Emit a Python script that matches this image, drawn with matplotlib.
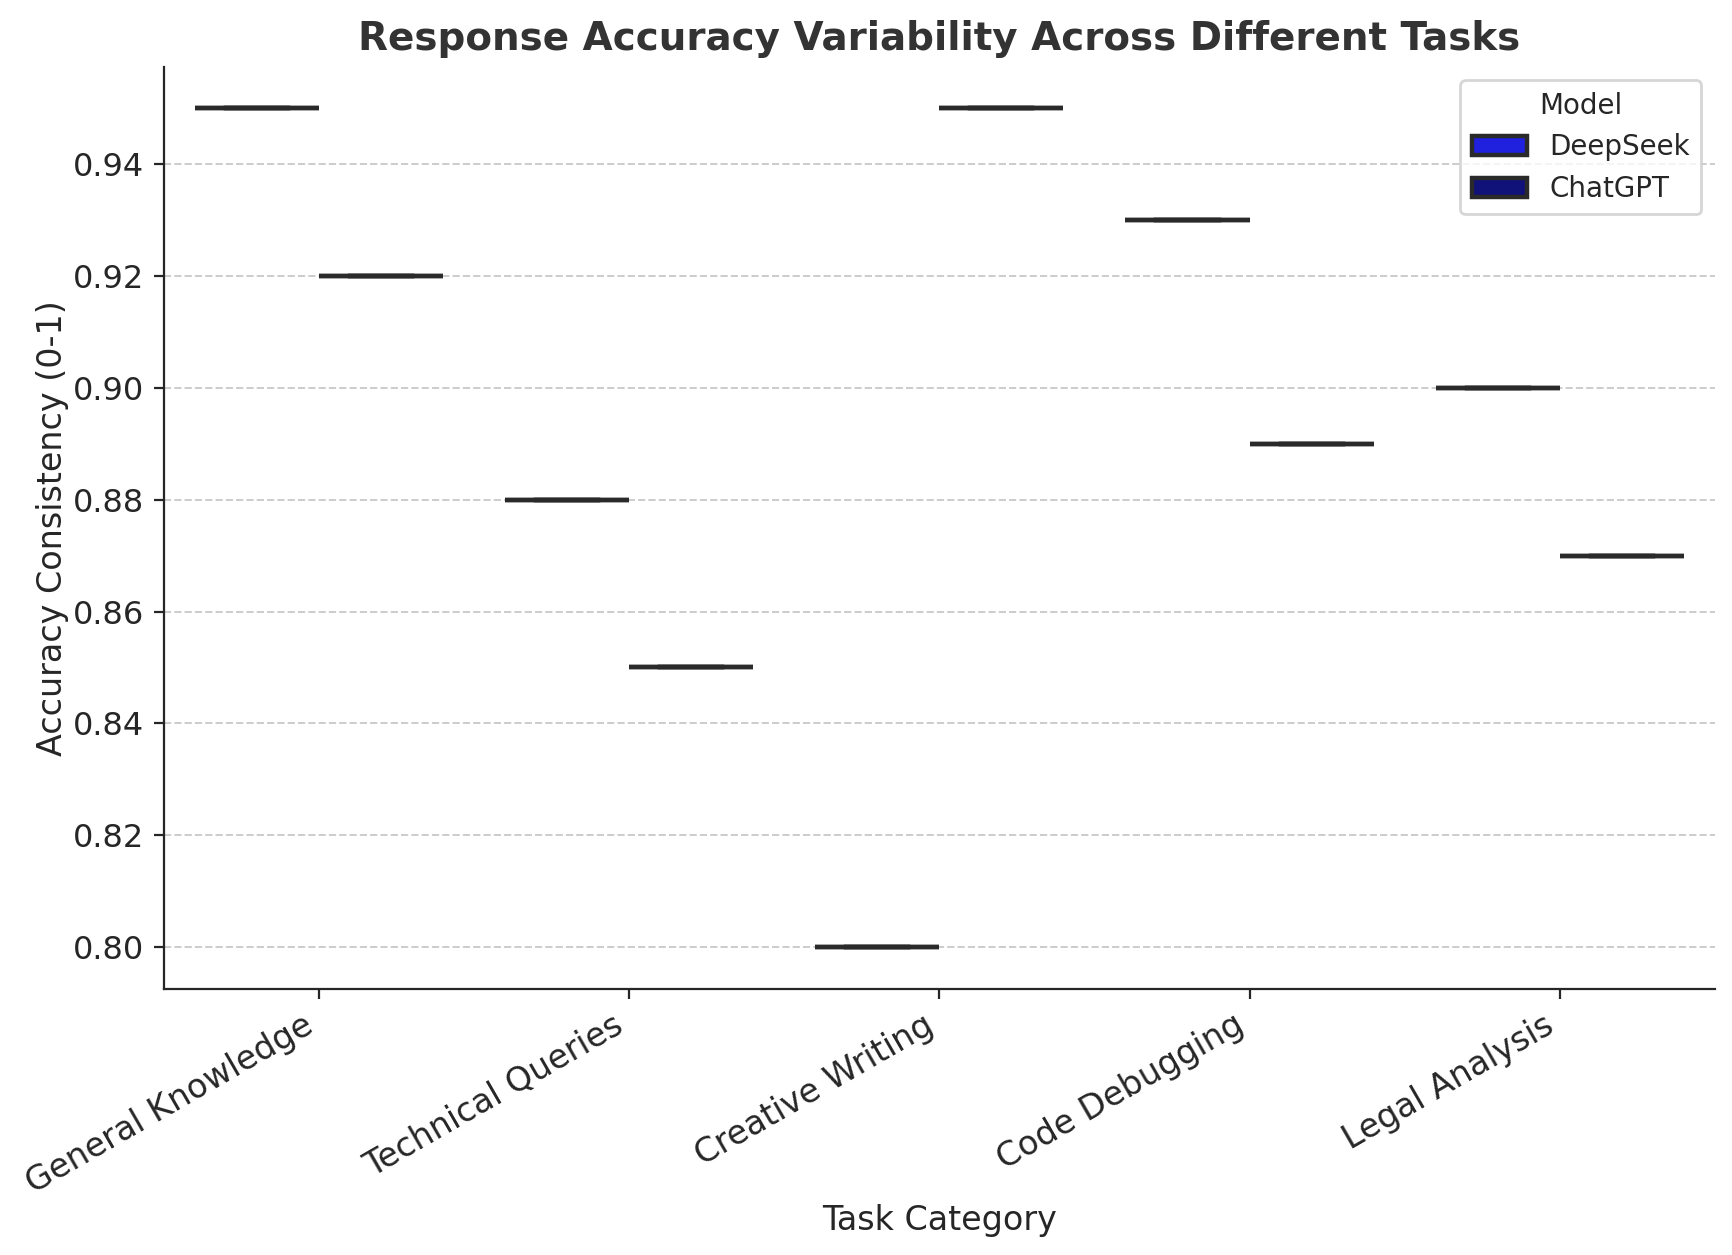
import matplotlib
matplotlib.use("Agg")
import matplotlib.pyplot as plt
import seaborn as sns
import pandas as pd

tasks = ["General Knowledge", "Technical Queries", "Creative Writing", "Code Debugging", "Legal Analysis"]
deepseek = [0.95, 0.88, 0.80, 0.93, 0.90]
chatgpt = [0.92, 0.85, 0.95, 0.89, 0.87]
models = ["DeepSeek", "ChatGPT"]

df = pd.DataFrame({
    "Task": tasks * 2,
    "Accuracy": deepseek + chatgpt,
    "Model": ["DeepSeek"] * len(tasks) + ["ChatGPT"] * len(tasks),
})

txt = "#262626"
plt.rcParams.update({
    "font.family": ["DejaVu Sans"],
    "text.color": txt,
    "axes.labelcolor": txt,
    "xtick.color": txt,
    "ytick.color": txt,
    "axes.edgecolor": txt,
})

fig, ax = plt.subplots(figsize=(8.665, 6.275), dpi=200)
sns.boxplot(data=df, x="Task", y="Accuracy", hue="Model", hue_order=models,
            palette={"DeepSeek": "blue", "ChatGPT": "darkblue"},
            linecolor="#2a2a2a", linewidth=1.6, ax=ax)

ax.set_title("Response Accuracy Variability Across Different Tasks",
             fontsize=14, fontweight="bold", color="#333333")
ax.set_xlabel("Task Category", fontsize=12, labelpad=1.5)
ax.set_ylabel("Accuracy Consistency (0-1)", fontsize=12, labelpad=1.5)
ax.tick_params(axis="x", labelsize=12)
ax.tick_params(axis="y", labelsize=11.5)
plt.setp(ax.get_xticklabels(), rotation=30, ha="right")
ax.yaxis.grid(True, linestyle="--", color="#cccccc", linewidth=0.7)
ax.set_axisbelow(True)
for s in ["top", "right"]:
    ax.spines[s].set_visible(False)
ax.set_xlim(-0.5, 4.5)

leg = ax.legend(title="Model", loc="upper right", fontsize=10, title_fontsize=10)
leg.get_frame().set_edgecolor("#cccccc")

fig.subplots_adjust(left=0.0944, right=0.9896, top=0.947, bottom=0.212)
fig.savefig("out.png", dpi=200)
